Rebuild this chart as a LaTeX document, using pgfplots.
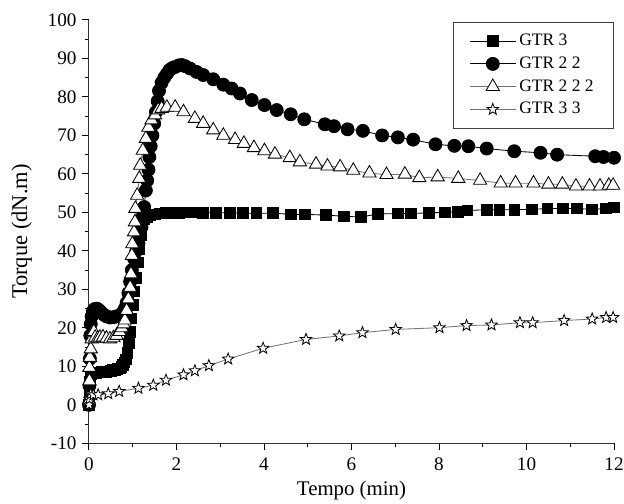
\documentclass[border=0pt]{standalone}
\usepackage{fontspec}
\setmainfont{Liberation Serif}
\usepackage{pgfplots}
\pgfplotsset{compat=1.18}

% five-pointed open star, as in the original
\pgfdeclareplotmark{star5}{%
  \pgfpathmoveto{\pgfpointpolar{90}{\pgfplotmarksize}}%
  \pgfpathlineto{\pgfpointpolar{126}{0.42\pgfplotmarksize}}%
  \pgfpathlineto{\pgfpointpolar{162}{\pgfplotmarksize}}%
  \pgfpathlineto{\pgfpointpolar{198}{0.42\pgfplotmarksize}}%
  \pgfpathlineto{\pgfpointpolar{234}{\pgfplotmarksize}}%
  \pgfpathlineto{\pgfpointpolar{270}{0.42\pgfplotmarksize}}%
  \pgfpathlineto{\pgfpointpolar{306}{\pgfplotmarksize}}%
  \pgfpathlineto{\pgfpointpolar{342}{0.42\pgfplotmarksize}}%
  \pgfpathlineto{\pgfpointpolar{18}{\pgfplotmarksize}}%
  \pgfpathlineto{\pgfpointpolar{54}{0.42\pgfplotmarksize}}%
  \pgfpathclose
  \pgfusepathqfillstroke
}

\begin{document}
\begin{tikzpicture}
\begin{axis}[
    scale only axis,
    width=315pt, height=254pt,
    xmin=0, xmax=12, ymin=-10, ymax=100,
    axis x line*=bottom, axis y line*=left,
    xtick={0,2,...,12}, minor xtick={1,3,...,11},
    ytick={-10,0,...,100},
    yticklabels={-10,0,10,20,30,40,50,60,70,80,90,100},
    minor ytick={-5,5,...,95},
    tick align=outside,
    major tick length=4pt, minor tick length=2.4pt,
    every tick/.style={black, line width=0.6pt},
    axis line style={line width=0.6pt, black!80},
    /pgf/number format/assume math mode=true,
    xticklabel style={font=\fontsize{11.5}{13}\selectfont, yshift=-1pt},
    yticklabel style={font=\fontsize{11.5}{13}\selectfont},
    xlabel={Tempo (min)}, ylabel={Torque (dN.m)},
    every axis y label/.style={at={(axis description cs:-0.128,0.5)},
        rotate=90, anchor=center, font=\fontsize{13.5}{15}\selectfont},
    every axis x label/.style={at={(axis description cs:0.5,-0.112)},
        anchor=center, font=\fontsize{12.5}{15}\selectfont},
    legend style={at={(1,0.995)}, anchor=north east, draw=black!75,
        font=\fontsize{10.5}{12}\selectfont, row sep=1.2pt,
        inner xsep=10pt, inner ysep=5pt},
    legend cell align=left,
    legend image code/.code={%
        \draw[mark repeat=2, mark phase=2]
        plot coordinates {(0cm,0cm) (0.48cm,0cm) (0.96cm,0cm)};},
]
% GTR 3
\addplot[black, line width=0.5pt, mark=square*, mark size=3.2pt,
    mark options={solid, fill=black}] coordinates {
(0,0) (0.01,3) (0.02,6) (0.04,8) (0.08,8.2) (0.12,8.3) (0.16,8.3) (0.2,8.4)
(0.25,8.4) (0.3,8.5) (0.35,8.5) (0.4,8.6) (0.45,8.7) (0.5,8.8) (0.55,9)
(0.6,9.1) (0.65,9.3) (0.7,9.5) (0.74,9.9) (0.78,10.3) (0.81,11) (0.84,11.8)
(0.88,13.5) (0.91,16) (0.94,19) (0.97,22.5) (1.0,26) (1.04,29.5) (1.08,33)
(1.12,37) (1.15,40.5) (1.18,44) (1.21,47) (1.25,48.3) (1.32,48.8) (1.4,49.2)
(1.5,49.5) (1.62,49.7) (1.75,49.8) (1.9,49.8) (2.05,49.9) (2.2,50) (2.4,50)
(2.6,49.9) (2.9,49.9) (3.22,49.9) (3.52,49.8) (3.83,49.8) (4.20,49.8)
(4.62,49.5) (4.94,49.5) (5.41,49.3) (5.83,49.0) (6.21,48.8) (6.61,49.6)
(7.06,49.7) (7.36,49.7) (7.77,49.9) (8.14,50.0) (8.43,50.2) (8.65,50.5)
(9.09,50.7) (9.38,50.7) (9.72,50.7) (10.12,50.8) (10.48,51.0) (10.83,51.0)
(11.15,51.0) (11.49,50.8) (11.81,51.0) (12.0,51.3)
};
\addlegendentry{GTR 3}
% GTR 2 2
\addplot[black, line width=0.5pt, mark=*, mark size=3.9pt,
    mark options={solid, fill=black}] coordinates {
(0,0) (0.01,5) (0.02,12) (0.03,18) (0.04,21) (0.06,23) (0.09,24.3) (0.13,24.9)
(0.18,25) (0.23,24.6) (0.28,24) (0.34,23.4) (0.4,23) (0.48,22.7) (0.56,22.8)
(0.63,23) (0.71,23.3) (0.77,24) (0.82,25) (0.86,26.5) (0.9,29) (0.94,32)
(0.98,35) (1.03,38) (1.08,40) (1.13,42) (1.17,44) (1.2,46.2) (1.23,49)
(1.26,51.4) (1.3,55.7) (1.33,58.3) (1.36,61.1) (1.38,64.4) (1.41,67.2)
(1.45,70) (1.49,73.1) (1.53,76.1) (1.57,78.9) (1.6,81.6) (1.66,83.7)
(1.72,85) (1.78,86) (1.84,87) (1.9,87.5) (1.97,87.8) (2.05,88.2) (2.12,88.3)
(2.2,88) (2.31,87.4) (2.46,86.5) (2.61,85.7) (2.84,84.6) (3.07,83.2)
(3.26,82.2) (3.45,80.9) (3.72,79.2) (4.01,77.9) (4.29,76.6) (4.61,75.5)
(4.92,74.2) (5.39,72.9) (5.60,72.4) (5.91,71.6) (6.26,71.2) (6.70,70.0)
(7.06,69.5) (7.41,68.9) (7.92,67.7) (8.35,67.3) (8.67,67.2) (9.09,66.6)
(9.72,65.9) (10.32,65.5) (10.70,65.0) (11.57,64.6) (11.76,64.4) (12.0,64.2)
};
\addlegendentry{GTR 2 2}
% GTR 2 2 2
\addplot[black!55, line width=0.5pt, mark=triangle*, mark size=4.6pt,
    mark options={solid, fill=white, draw=black, line width=0.5pt}] coordinates {
(0,1) (0.01,6.2) (0.01,9.7) (0.02,12.3) (0.04,14.5) (0.06,17.1) (0.08,18.8)
(0.11,19) (0.14,17.5) (0.2,17.3) (0.25,17.5) (0.32,17.6) (0.4,17.3)
(0.48,17.1) (0.56,17.4) (0.63,18) (0.7,19) (0.75,20) (0.79,21) (0.82,22)
(0.86,24.5) (0.9,27.5) (0.94,30.5) (0.96,34) (0.98,38.8) (0.99,41.8)
(1.03,44.9) (1.05,47.5) (1.06,51) (1.1,54.4) (1.15,58.8) (1.17,62.2)
(1.23,66.1) (1.3,69.2) (1.36,72.1) (1.43,74) (1.51,75.3) (1.58,76.6)
(1.66,77) (1.78,77.3) (1.97,77.3) (2.16,76.1) (2.42,74.4) (2.61,73.1)
(2.84,71.4) (3.07,70) (3.34,68.9) (3.54,67.9) (3.77,66.8) (4.01,66.0)
(4.25,65.1) (4.59,64.2) (4.82,63.1) (5.19,62.5) (5.45,62.0) (5.74,61.8)
(6.04,60.9) (6.41,60.2) (6.80,59.8) (7.22,59.9) (7.55,59.0) (7.97,59.2)
(8.44,58.8) (8.94,58.3) (9.41,57.6) (9.75,57.6) (10.16,57.6) (10.50,57.3)
(10.82,57.3) (11.13,56.8) (11.44,56.8) (11.68,56.8) (11.88,57.0) (11.98,57.0)
};
\addlegendentry{GTR 2 2 2}
% GTR 3 3
\addplot[black!55, line width=0.5pt, mark=star5, mark size=3.6pt,
    mark options={solid, fill=white, draw=black, line width=0.5pt}] coordinates {
(0,0) (0.01,1.5) (0.04,2.8) (0.1,2.6) (0.21,2.6) (0.44,2.9) (0.69,3.5)
(1.13,4.3) (1.47,5.1) (1.76,6.4) (2.16,7.8) (2.42,8.85) (2.74,10.2)
(3.18,11.9) (3.98,14.7) (4.96,17.0) (5.72,17.9) (6.25,18.75) (7.01,19.6)
(8.01,20.05) (8.63,20.6) (9.20,20.75) (9.85,21.35) (10.14,21.35)
(10.86,21.9) (11.50,22.3) (11.82,22.7) (11.98,22.7)
};
\addlegendentry{GTR 3 3}
\end{axis}
\pgfresetboundingbox
\useasboundingbox ([xshift=-53.4pt, yshift=-36pt]current axis.south west)
    rectangle ([xshift=6pt, yshift=12pt]current axis.north east);
\end{tikzpicture}
\end{document}
